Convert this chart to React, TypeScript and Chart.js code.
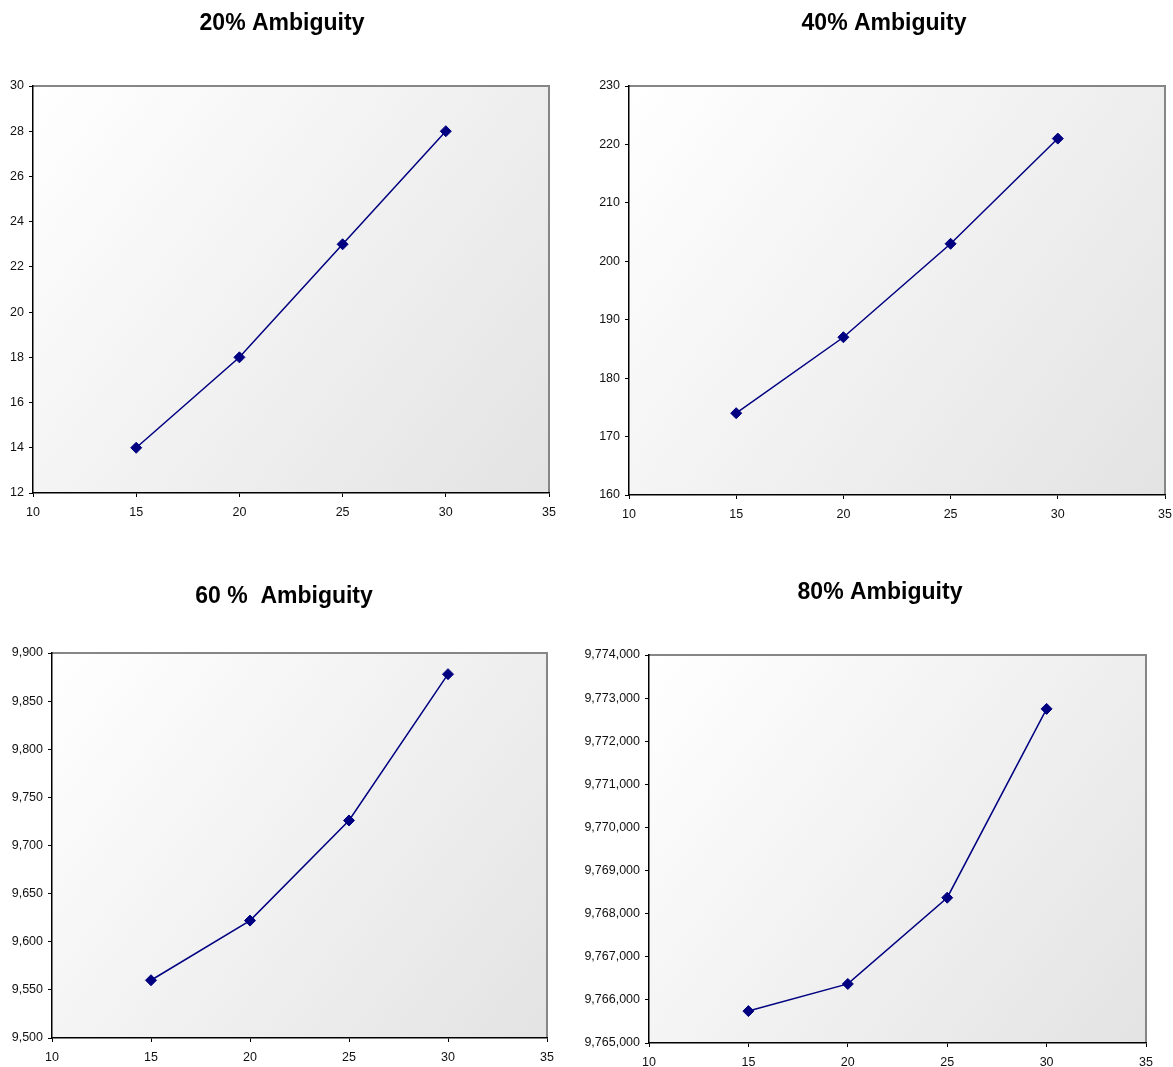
import React, { useEffect, useRef } from "react";
import { Chart, registerables } from "chart.js";

Chart.register(...registerables);

// ---- data ----
const xValues = [15, 20, 25, 30];
const xTicks = [10, 15, 20, 25, 30, 35];
const amb20 = [14, 18, 23, 28];
const amb40 = [174, 187, 203, 221];
const amb60 = [9560, 9622, 9726, 9878];
const amb80 = [9765740, 9766370, 9768370, 9772750];
const titles = ["20% Ambiguity", "40% Ambiguity", "60 %  Ambiguity", "80% Ambiguity"];
const yMin = [12, 160, 9500, 9765000];
const yMax = [30, 230, 9900, 9774000];
const yStep = [2, 10, 50, 1000];
const series = [amb20, amb40, amb60, amb80];

// ---- layout (page pixels) ----
type Panel = {
  left: number; top: number; w: number; h: number;
  area: { l: number; t: number; r: number; b: number };
  title: { x: number; y: number };
  yW: number; xH: number;
};

const panels: Panel[] = [
  { left: 0, top: 0, w: 560, h: 540, area: { l: 33, t: 86, r: 549, b: 493 }, title: { x: 282, y: 30 }, yW: 32, xH: 34 },
  { left: 560, top: 0, w: 613, h: 540, area: { l: 69, t: 86, r: 605, b: 495 }, title: { x: 324, y: 30 }, yW: 45, xH: 34 },
  { left: 0, top: 540, w: 560, h: 527, area: { l: 52, t: 113, r: 547, b: 498 }, title: { x: 284, y: 63 }, yW: 50, xH: 29 },
  { left: 560, top: 540, w: 613, h: 527, area: { l: 89, t: 115, r: 586, b: 503 }, title: { x: 320, y: 59 }, yW: 80, xH: 24 },
];

const FONT = "'Liberation Sans', Arial, Helvetica, sans-serif";
const NAVY = "#000080";

const plotBg = {
  id: "plotBg",
  beforeDraw(chart: any) {
    const { ctx, chartArea: a } = chart;
    ctx.save();
    const g = ctx.createLinearGradient(a.left, a.top, a.right, a.bottom);
    g.addColorStop(0, "#ffffff");
    g.addColorStop(1, "#e3e3e3");
    ctx.fillStyle = g;
    ctx.fillRect(a.left, a.top, a.right - a.left, a.bottom - a.top);
    ctx.strokeStyle = "#868686";
    ctx.lineWidth = 2;
    ctx.beginPath();
    ctx.moveTo(a.left, a.top);
    ctx.lineTo(a.right, a.top);
    ctx.lineTo(a.right, a.bottom);
    ctx.stroke();
    ctx.restore();
  },
};

const panelTitle = {
  id: "panelTitle",
  afterDraw(chart: any, _args: any, opts: any) {
    const { ctx } = chart;
    ctx.save();
    ctx.font = `bold 23px ${FONT}`;
    ctx.fillStyle = "#000";
    ctx.textAlign = "center";
    ctx.textBaseline = "alphabetic";
    ctx.fillText(opts.text, opts.x, opts.y);
    ctx.restore();
  },
};

function fmt(v: number) {
  return Number(v).toLocaleString("en-US");
}

function PanelChart({ idx }: { idx: number }) {
  const ref = useRef<HTMLCanvasElement | null>(null);
  const p = panels[idx];
  useEffect(() => {
    if (!ref.current) return;
    const vals = series[idx];
    const data = xValues.map((x, i) => ({ x, y: vals[i] }));
    const chart = new Chart(ref.current, {
      type: "line",
      data: {
        datasets: [
          {
            data,
            borderColor: NAVY,
            backgroundColor: NAVY,
            borderWidth: 1.5,
            pointStyle: "rectRot",
            pointRadius: 5.5,
            pointBorderWidth: 1,
            pointBackgroundColor: NAVY,
            pointBorderColor: NAVY,
            fill: false,
            tension: 0,
          },
        ],
      },
      plugins: [plotBg, panelTitle],
      options: {
        animation: false,
        responsive: false,
        events: [],
        layout: {
          padding: {
            left: p.area.l - p.yW,
            top: p.area.t,
            right: p.w - p.area.r,
            bottom: p.h - p.area.b - p.xH,
          },
        },
        plugins: {
          legend: { display: false },
          tooltip: { enabled: false },
          title: { display: false },
          panelTitle: { text: titles[idx], x: p.title.x, y: p.title.y },
        } as any,
        scales: {
          x: {
            type: "linear",
            min: xTicks[0],
            max: xTicks[xTicks.length - 1],
            afterBuildTicks: (s: any) => {
              s.ticks = xTicks.map((v) => ({ value: v }));
            },
            afterFit: (s: any) => {
              s.height = p.xH;
              s.paddingLeft = 0;
              s.paddingRight = 0;
            },
            grid: { display: true, drawOnChartArea: false, drawTicks: true, tickLength: 4, color: "#000", lineWidth: 1 },
            border: { display: true, color: "#000", width: 1.5 },
            ticks: {
              font: { family: FONT, size: 12.5 },
              color: "#111",
              padding: 8,
              maxRotation: 0,
              autoSkip: false,
              callback: (v: any) => fmt(v),
            },
          },
          y: {
            type: "linear",
            min: yMin[idx],
            max: yMax[idx],
            ticks: {
              stepSize: yStep[idx],
              font: { family: FONT, size: 12.5 },
              color: "#111",
              padding: 5,
              autoSkip: false,
              callback: (v: any) => fmt(v),
            },
            afterFit: (s: any) => {
              s.width = p.yW;
              s.paddingTop = 0;
              s.paddingBottom = 0;
            },
            grid: { display: true, drawOnChartArea: false, drawTicks: true, tickLength: 4, color: "#000", lineWidth: 1 },
            border: { display: true, color: "#000", width: 1.5 },
          },
        },
      } as any,
    });
    return () => chart.destroy();
  }, [idx]);
  return (
    <canvas
      ref={ref}
      width={p.w}
      height={p.h}
      style={{ position: "absolute", left: p.left, top: p.top, width: p.w, height: p.h }}
    />
  );
}

export default function App() {
  return (
    <div style={{ position: "absolute", left: 0, top: 0, width: 1173, height: 1067, background: "#fff", overflow: "hidden" }}>
      {panels.map((_, i) => (
        <PanelChart key={i} idx={i} />
      ))}
    </div>
  );
}
